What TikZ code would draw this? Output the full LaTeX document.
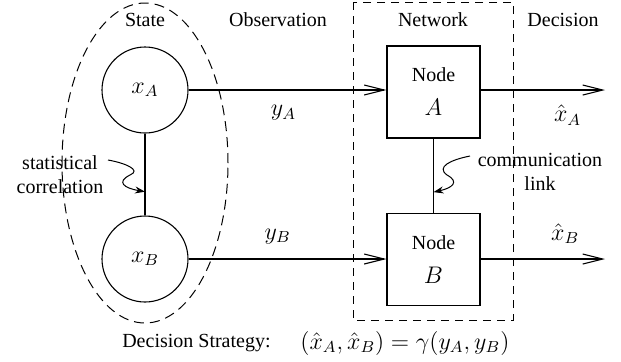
\documentclass[tikz,border=0pt]{standalone}
\usepackage{fontspec}
\setmainfont{Liberation Serif}
\usepackage{tikz}
\usetikzlibrary{
    arrows.meta,
    positioning,
    calc
}
\newcommand{\mathsz}{\fontsize{11.5}{14}\selectfont}
\tikzset{
    state node/.style={
        circle, draw, line width=0.55pt,
        minimum size=43pt, inner sep=0pt, font=\mathsz
    },
    agent box/.style={
        rectangle, draw, line width=0.55pt,
        minimum width=46.5pt, minimum height=46pt,
        align=center, inner sep=0pt
    },
    signal/.style={
        -{Straight Barb[length=10pt, width=5pt, line width=0.55pt]},
        line width=0.55pt
    },
    signal label/.style={font=\mathsz},
    plain link/.style={line width=0.55pt},
    group outline/.style={
        dash pattern=on 5pt off 3pt, line width=0.5pt
    },
    squiggle/.style={
        -{Stealth[length=5pt, width=3.5pt]}, line width=0.5pt
    },
    column title/.style={font=\normalsize}
}

\begin{document}
\begin{tikzpicture}[x=0.5pt, y=-0.5pt]

    \useasboundingbox (0,0) rectangle (621,361);

    % Column headings
    \node[column title] (state title) at (145,20) {State};
    \node[column title] (obs title) at (278,20) {Observation};
    \node[column title] (net title) at (433,20) {Network};
    \node[column title] (dec title) at (563,20) {Decision};

    % State variables
    \node[state node] (xA) at (145,90) {$x_A$};
    \node[state node] (xB) at (145,259) {$x_B$};
    \draw[group outline] (145,163) ellipse [x radius=41.5pt, y radius=80pt];

    % Network nodes
    \node[agent box] (nodeA) at (433.5,92) {Node\\[5pt]{\mathsz$A$}};
    \node[agent box] (nodeB) at (433.5,259.5) {Node\\[5pt]{\mathsz$B$}};
    \draw[group outline, dash pattern=on 4pt off 3pt] (353,2) rectangle (513,320);

    % Links
    \draw[plain link] (xA) -- (xB);
    \draw[plain link] (nodeA) -- (nodeB);

    % Observations and decisions
    \draw[signal] (xA.east) -- node[signal label, below=4pt, pos=0.48] {$y_A$} (nodeA.west |- xA.east);
    \draw[signal] (xB.east) -- node[signal label, above=4pt, pos=0.45] {$y_B$} (nodeB.west |- xB.east);
    \coordinate (outA) at (605,90);
    \coordinate (outB) at (605,259);
    \draw[signal] (nodeA.east |- outA) -- node[signal label, below=4pt, pos=0.7] {$\hat{x}_A$} (outA);
    \draw[signal] (nodeB.east |- outB) -- node[signal label, above=4pt, pos=0.68] {$\hat{x}_B$} (outB);

    % Side labels with curly pointers
    \node[align=center, inner sep=0pt] (corr) at (60,175) {statistical\\correlation};
    \node[align=center, inner sep=0pt] (comm) at (540,172) {communication\\link};
    \coordinate (corr end) at ($(xA.south)!0.71!(xB.north)$);
    \coordinate (comm end) at ($(nodeA.south)!0.72!(nodeB.north)$);
    \draw[squiggle] (108,160) .. controls (125,163) and (142,170) .. (130,175)
        .. controls (116,182) and (124,188) .. (corr end);
    \draw[squiggle] (470,156) .. controls (450,160) and (436,167) .. (447,175)
        .. controls (460,182) and (452,188) .. (comm end);

    % Strategy
    \node[anchor=east, inner sep=0pt] (strategy) at (271,343) {Decision Strategy:};
    \node[signal label, anchor=west, inner sep=0pt] (gamma) at (300,343) {$(\hat{x}_A,\hat{x}_B)=\gamma(y_A,y_B)$};

\end{tikzpicture}
\end{document}
